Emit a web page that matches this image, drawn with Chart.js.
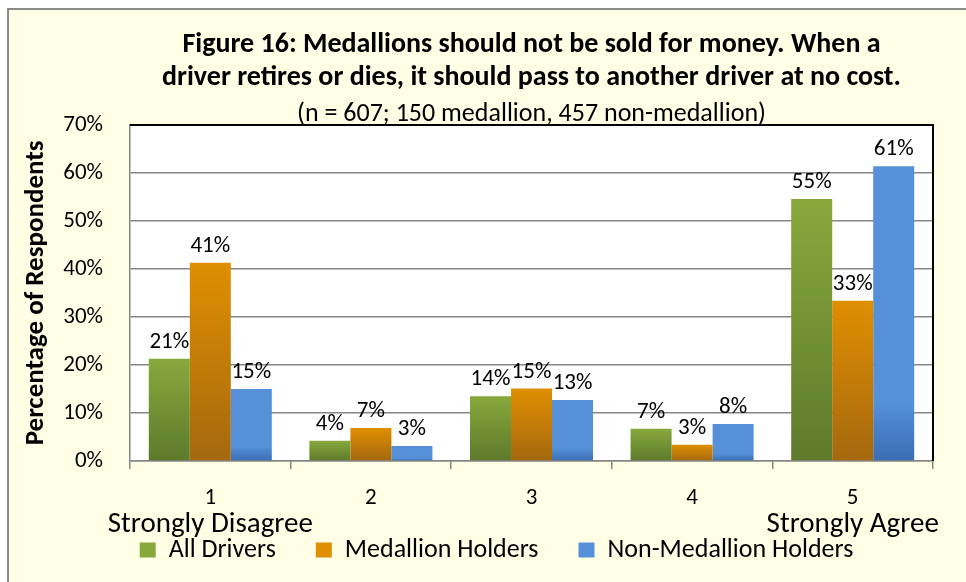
<!DOCTYPE html>
<html>
<head>
<meta charset="utf-8">
<script src="https://cdn.jsdelivr.net/npm/chart.js@4"></script>
<style>
  html, body { margin: 0; padding: 0; background: #fff; }
  #wrap { width: 966px; height: 582px; }
</style>
</head>
<body>
<div id="wrap"><canvas id="c" width="966" height="582"></canvas></div>
<script>
const categories = ['1', '2', '3', '4', '5'];
const scaleEnds = ['Strongly Disagree', '', '', '', 'Strongly Agree'];
const allDrivers = [21.3, 4.2, 13.5, 6.7, 54.6];
const medallionHolders = [41.3, 6.9, 15.1, 3.4, 33.4];
const nonMedallionHolders = [15.0, 3.1, 12.7, 7.7, 61.4];
const yTicks = [0, 10, 20, 30, 40, 50, 60, 70];

const FONT = 'Carlito, Calibri, Lato, sans-serif';

// top colour, bottom colour for each series (Excel-like vertical gradient)
const shades = [
  ['#87a93c', '#5d7a2c'],
  ['#e08f02', '#a4680e'],
  ['#5590d8', '#3a6db3']
];

function barGradient(i) {
  return (ctx) => {
    const chart = ctx.chart;
    const y = chart.scales && chart.scales.y;
    if (!y || typeof ctx.raw !== 'number') return shades[i][0];
    const top = y.getPixelForValue(ctx.raw);
    const bottom = y.getPixelForValue(0);
    if (!isFinite(top) || !isFinite(bottom) || top === bottom) return shades[i][0];
    const g = chart.ctx.createLinearGradient(0, top, 0, bottom);
    if (i === 2) {
      g.addColorStop(0, shades[i][0]);
      g.addColorStop(0.8, shades[i][0]);
      g.addColorStop(1, shades[i][1]);
    } else {
      g.addColorStop(0, shades[i][0]);
      g.addColorStop(1, shades[i][1]);
    }
    return g;
  };
}

const backdrop = {
  id: 'backdrop',
  afterInit(chart) {
    // wide spacing between legend items, but a short legend box
    const legend = chart.legend;
    if (!legend) return;
    const fit = legend.fit.bind(legend);
    legend.fit = function () { fit(); this.height = 66; };
  },
  afterLayout(chart) {
    const legend = chart.legend;
    if (!legend) return;
    legend.top = 497;
    legend.bottom = legend.top + legend.height;
    legend.left += 25;
    legend.right += 25;
  },
  beforeDraw(chart) {
    const { ctx, chartArea: a } = chart;
    ctx.save();
    ctx.fillStyle = '#fff';
    ctx.fillRect(0, 0, chart.width, chart.height);
    ctx.fillStyle = '#ffffe6';
    ctx.fillRect(8, 9, chart.width, chart.height);
    ctx.strokeStyle = '#8a8a8a';
    ctx.lineWidth = 2;
    ctx.strokeRect(8, 9, chart.width + 10, chart.height + 10);
    ctx.fillStyle = '#fff';
    ctx.fillRect(a.left, a.top, a.right - a.left, a.bottom - a.top);
    ctx.restore();
  },
  afterDraw(chart) {
    const { ctx, chartArea: a } = chart;
    ctx.save();
    ctx.strokeStyle = '#000';
    ctx.lineWidth = 2;
    ctx.beginPath();
    ctx.moveTo(a.left, a.top);
    ctx.lineTo(a.right, a.top);
    ctx.lineTo(a.right, a.bottom);
    ctx.stroke();
    // end-point captions under categories 1 and 5
    const x = chart.scales.x;
    ctx.font = '29px ' + FONT;
    ctx.fillStyle = '#000';
    ctx.textAlign = 'center';
    ctx.textBaseline = 'alphabetic';
    scaleEnds.forEach((t, i) => {
      if (t) ctx.fillText(t, x.getPixelForValue(i), 532);
    });
    ctx.restore();
  }
};

const valueLabels = {
  id: 'valueLabels',
  afterDatasetsDraw(chart) {
    const ctx = chart.ctx;
    ctx.save();
    ctx.font = '23px ' + FONT;
    ctx.fillStyle = '#000';
    ctx.textAlign = 'center';
    ctx.textBaseline = 'alphabetic';
    chart.data.datasets.forEach((ds, i) => {
      chart.getDatasetMeta(i).data.forEach((bar, j) => {
        ctx.fillText(Math.round(ds.data[j]) + '%', bar.x, bar.y - 11);
      });
    });
    ctx.restore();
  }
};

new Chart(document.getElementById('c'), {
  type: 'bar',
  data: {
    labels: categories,
    datasets: [
      { label: 'All Drivers', data: allDrivers, backgroundColor: barGradient(0) },
      { label: 'Medallion Holders', data: medallionHolders, backgroundColor: barGradient(1) },
      { label: 'Non-Medallion Holders', data: nonMedallionHolders, backgroundColor: barGradient(2) }
    ]
  },
  options: {
    responsive: false,
    animation: false,
    devicePixelRatio: 1,
    categoryPercentage: 0.766,
    barPercentage: 1,
    layout: { padding: { left: 10, right: 33, top: 0, bottom: 0 } },
    scales: {
      x: {
        offset: true,
        grid: { display: true, drawOnChartArea: false, drawTicks: true, tickLength: 8, color: '#868686', lineWidth: 1.5, offset: true },
        border: { color: '#868686', width: 1.5 },
        ticks: {
          color: '#000', autoSkip: false, maxRotation: 0, minRotation: 0, padding: 15,
          font: { family: FONT, size: 23, lineHeight: 1.2 }
        },
        afterFit(scale) { scale.height = 55; }
      },
      y: {
        min: 0,
        max: 70,
        afterBuildTicks(scale) { scale.ticks = yTicks.map(v => ({ value: v })); },
        grid: { color: '#868686', lineWidth: 1.5, drawTicks: false },
        border: { color: '#868686', width: 1.5 },
        ticks: {
          color: '#000', padding: 27,
          font: { family: FONT, size: 23 },
          callback: v => v + '%'
        },
        title: {
          display: true,
          text: 'Percentage of Respondents',
          color: '#000',
          font: { family: FONT, size: 27, weight: 'bold', lineHeight: 1.2 },
          padding: { top: 10, bottom: 0 }
        },
        afterFit(scale) { scale.width = 120; }
      }
    },
    plugins: {
      title: {
        display: true,
        fullSize: false,
        text: ['Figure 16: Medallions should not be sold for money. When a',
               'driver retires or dies, it should pass to another driver at no cost.'],
        color: '#000',
        font: { family: FONT, size: 28, weight: 'bold', lineHeight: 1.19 },
        padding: { top: 28, bottom: 0 }
      },
      subtitle: {
        display: true,
        fullSize: false,
        text: '(n = 607; 150 medallion, 457 non-medallion)',
        color: '#000',
        font: { family: FONT, size: 26, lineHeight: 0.82 },
        padding: { top: 9, bottom: 0 }
      },
      legend: {
        position: 'bottom',
        labels: {
          color: '#000',
          boxWidth: 16,
          boxHeight: 15,
          padding: 40,
          font: { family: FONT, size: 26 },
          generateLabels(chart) {
            const items = Chart.defaults.plugins.legend.labels.generateLabels(chart);
            items.forEach((it, i) => {
              it.fillStyle = shades[i][0];
              it.strokeStyle = shades[i][0];
              it.lineWidth = 0;
            });
            return items;
          }
        }
      },
      tooltip: { enabled: false }
    }
  },
  plugins: [backdrop, valueLabels]
});
</script>
</body>
</html>
